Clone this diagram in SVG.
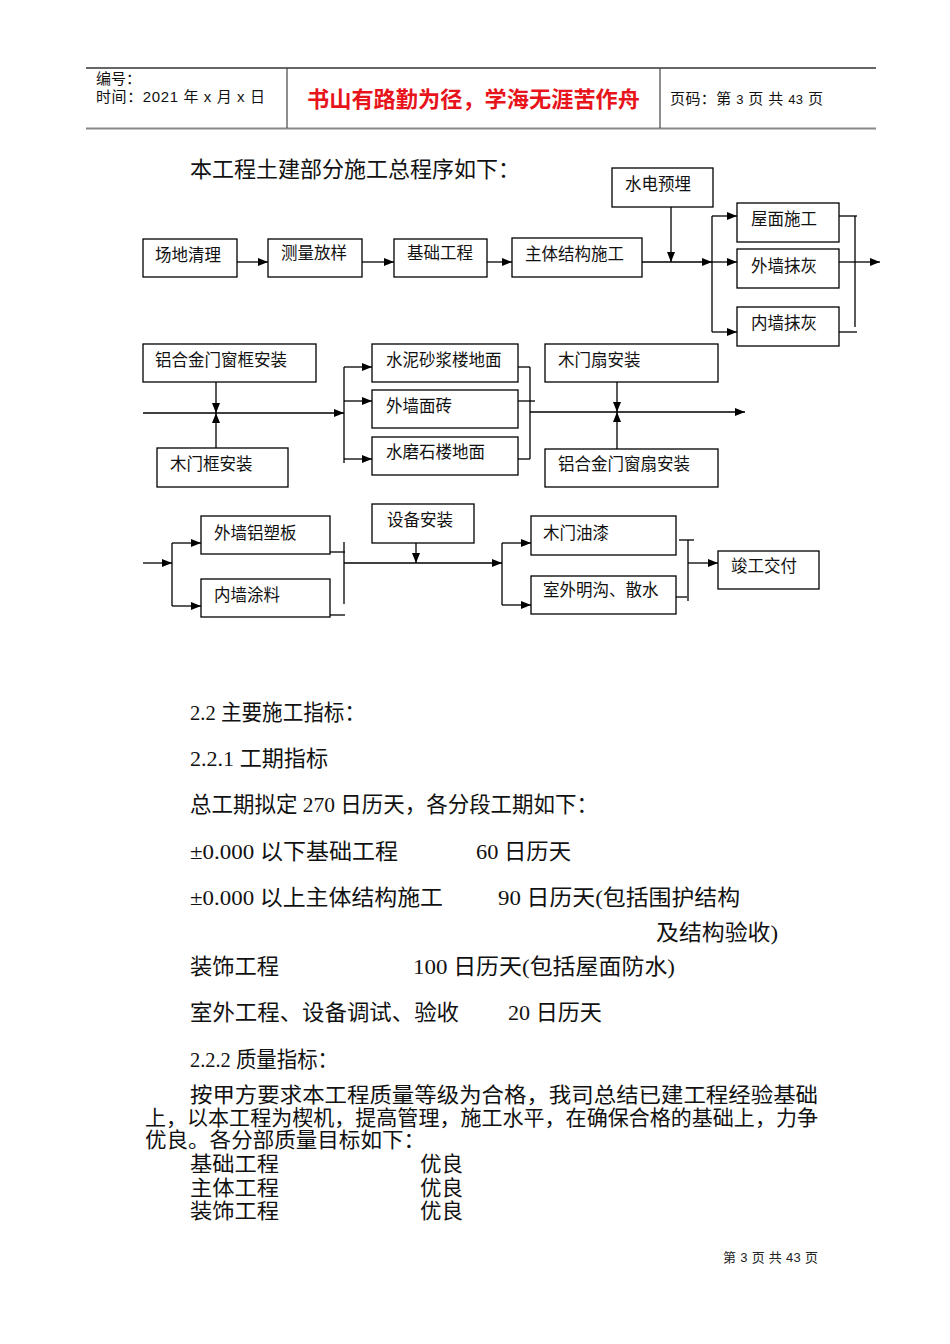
<svg xmlns="http://www.w3.org/2000/svg" width="950" height="1344" viewBox="0 0 950 1344">
<style>
.bg{fill:#fff}
.hd{font-family:"Liberation Sans","Noto Sans CJK SC",sans-serif;font-size:15px;fill:#111}
.red{font-family:"Liberation Sans","Noto Sans CJK SC",sans-serif;font-size:22px;font-weight:bold;fill:#e8141b}
.box rect{fill:#fff;stroke:#000;stroke-width:1.3}
.box text{font-family:"Liberation Serif","Noto Sans CJK SC",serif;font-size:16.5px;fill:#111}
.con line{stroke:#000;stroke-width:1.3;fill:none}
.body{font-family:"Liberation Serif","Noto Sans CJK SC",serif;font-size:22px;fill:#111}
.para{font-family:"Liberation Serif","Noto Sans CJK SC",serif;font-size:21px;fill:#111}
.ft{font-family:"Liberation Sans","Noto Sans CJK SC",sans-serif;font-size:13px;fill:#222}
</style>
<defs>
<marker id="ar" viewBox="0 0 10 8" refX="10" refY="4" markerWidth="10" markerHeight="8" orient="auto" markerUnits="userSpaceOnUse"><path d="M0,0 L10,4 L0,8 z" fill="#000"/></marker>
</defs>
<rect class="bg" x="0" y="0" width="950" height="1344"/>

<g id="header">
<line x1="86" y1="68" x2="876" y2="68" stroke="#333" stroke-width="1.3"/>
<line x1="86" y1="128.5" x2="876" y2="128.5" stroke="#888" stroke-width="2"/>
<line x1="287" y1="68" x2="287" y2="128" stroke="#444" stroke-width="1.2"/>
<line x1="660" y1="68" x2="660" y2="128" stroke="#444" stroke-width="1.2"/>
<text class="hd" x="96" y="84">编号：</text>
<text class="hd" x="96" y="102" textLength="169" lengthAdjust="spacing">时间：2021 年 x 月 x 日</text>
<text class="red" x="307" y="107" textLength="333" lengthAdjust="spacingAndGlyphs">书山有路勤为径，学海无涯苦作舟</text>
<text class="hd" x="670" y="104" textLength="153" lengthAdjust="spacing">页码：第 <tspan font-size="13">3</tspan> 页 共 <tspan font-size="13">43</tspan> 页</text>
</g>

<text class="body" x="190" y="177" textLength="330" lengthAdjust="spacingAndGlyphs">本工程土建部分施工总程序如下：</text>

<g class="con" id="connectors">
<line x1="237" y1="262" x2="268" y2="262" marker-end="url(#ar)"/>
<line x1="362" y1="262" x2="394" y2="262" marker-end="url(#ar)"/>
<line x1="487" y1="262" x2="512" y2="262" marker-end="url(#ar)"/>
<line x1="642" y1="262" x2="712" y2="262" marker-end="url(#ar)"/>
<line x1="712" y1="262" x2="737" y2="262" marker-end="url(#ar)"/>
<line x1="671" y1="207" x2="671" y2="262" marker-end="url(#ar)"/>
<line x1="712" y1="216" x2="712" y2="332"/>
<line x1="712" y1="216" x2="737" y2="216" marker-end="url(#ar)"/>
<line x1="712" y1="332" x2="737" y2="332" marker-end="url(#ar)"/>
<line x1="839" y1="216" x2="857" y2="216"/>
<line x1="839" y1="262" x2="855" y2="262"/>
<line x1="839" y1="332" x2="857" y2="332"/>
<line x1="855" y1="216" x2="855" y2="327"/>
<line x1="855" y1="262" x2="880" y2="262" marker-end="url(#ar)"/>
<line x1="143" y1="413" x2="344" y2="413" marker-end="url(#ar)"/>
<line x1="216" y1="382" x2="216" y2="413" marker-end="url(#ar)"/>
<line x1="216" y1="448" x2="216" y2="413" marker-end="url(#ar)"/>
<line x1="344" y1="367" x2="344" y2="463"/>
<line x1="344" y1="367" x2="372" y2="367" marker-end="url(#ar)"/>
<line x1="344" y1="401" x2="372" y2="401" marker-end="url(#ar)"/>
<line x1="344" y1="459" x2="372" y2="459" marker-end="url(#ar)"/>
<line x1="518" y1="367" x2="530" y2="367"/>
<line x1="518" y1="401" x2="535" y2="401"/>
<line x1="518" y1="459" x2="530" y2="459"/>
<line x1="530" y1="367" x2="530" y2="459"/>
<line x1="530" y1="412" x2="745" y2="412" marker-end="url(#ar)"/>
<line x1="617" y1="382" x2="617" y2="412" marker-end="url(#ar)"/>
<line x1="617" y1="449" x2="617" y2="412" marker-end="url(#ar)"/>
<line x1="143" y1="563" x2="172" y2="563" marker-end="url(#ar)"/>
<line x1="172" y1="543" x2="172" y2="606"/>
<line x1="172" y1="543" x2="201" y2="543" marker-end="url(#ar)"/>
<line x1="172" y1="606" x2="201" y2="606" marker-end="url(#ar)"/>
<line x1="330" y1="552" x2="345" y2="552"/>
<line x1="330" y1="615" x2="345" y2="615"/>
<line x1="344" y1="542" x2="344" y2="604"/>
<line x1="344" y1="563" x2="502" y2="563" marker-end="url(#ar)"/>
<line x1="416" y1="543" x2="416" y2="563" marker-end="url(#ar)"/>
<line x1="502" y1="543" x2="502" y2="605"/>
<line x1="502" y1="543" x2="531" y2="543" marker-end="url(#ar)"/>
<line x1="502" y1="605" x2="531" y2="605" marker-end="url(#ar)"/>
<line x1="679" y1="540" x2="694" y2="540"/>
<line x1="688" y1="540" x2="688" y2="601"/>
<line x1="671" y1="597" x2="687" y2="597"/>
<line x1="688" y1="563" x2="718" y2="563" marker-end="url(#ar)"/>
</g>

<g class="box" id="n1"><rect x="143" y="239" width="94" height="38"/><text x="155" y="261">场地清理</text></g>
<g class="box" id="n2"><rect x="268" y="239" width="94" height="38"/><text x="281" y="259">测量放样</text></g>
<g class="box" id="n3"><rect x="394" y="239" width="93" height="38"/><text x="407" y="259">基础工程</text></g>
<g class="box" id="n4"><rect x="512" y="238" width="130" height="39"/><text x="525" y="260">主体结构施工</text></g>
<g class="box" id="n5"><rect x="612" y="168" width="101" height="39"/><text x="625" y="190">水电预埋</text></g>
<g class="box" id="n6"><rect x="737" y="203" width="102" height="39"/><text x="751" y="225">屋面施工</text></g>
<g class="box" id="n7"><rect x="737" y="249" width="102" height="39"/><text x="751" y="272">外墙抹灰</text></g>
<g class="box" id="n8"><rect x="737" y="307" width="102" height="39"/><text x="751" y="329">内墙抹灰</text></g>

<g class="box" id="n9"><rect x="143" y="344" width="173" height="38"/><text x="155" y="366">铝合金门窗框安装</text></g>
<g class="box" id="n10"><rect x="157" y="448" width="131" height="39"/><text x="170" y="470">木门框安装</text></g>
<g class="box" id="n11"><rect x="372" y="344" width="146" height="38"/><text x="386" y="366">水泥砂浆楼地面</text></g>
<g class="box" id="n12"><rect x="372" y="390" width="146" height="38"/><text x="386" y="412">外墙面砖</text></g>
<g class="box" id="n13"><rect x="372" y="437" width="146" height="38"/><text x="386" y="458">水磨石楼地面</text></g>
<g class="box" id="n14"><rect x="545" y="344" width="173" height="38"/><text x="558" y="366">木门扇安装</text></g>
<g class="box" id="n15"><rect x="545" y="449" width="173" height="38"/><text x="558" y="470">铝合金门窗扇安装</text></g>

<g class="box" id="n16"><rect x="201" y="516" width="129" height="38"/><text x="214" y="539">外墙铝塑板</text></g>
<g class="box" id="n17"><rect x="201" y="579" width="129" height="38"/><text x="214" y="601">内墙涂料</text></g>
<g class="box" id="n18"><rect x="372" y="504" width="102" height="39"/><text x="387" y="526">设备安装</text></g>
<g class="box" id="n19"><rect x="531" y="516" width="145" height="39"/><text x="543" y="539">木门油漆</text></g>
<g class="box" id="n20"><rect x="531" y="576" width="145" height="38"/><text x="543" y="596">室外明沟、散水</text></g>
<g class="box" id="n21"><rect x="718" y="551" width="101" height="38"/><text x="731" y="572">竣工交付</text></g>

<g id="body">
<text class="body" x="190" y="720" textLength="175" lengthAdjust="spacingAndGlyphs">2.2 主要施工指标：</text>
<text class="body" x="190" y="766" textLength="138" lengthAdjust="spacingAndGlyphs">2.2.1 工期指标</text>
<text class="body" x="190" y="812" textLength="408" lengthAdjust="spacingAndGlyphs">总工期拟定 270 日历天，各分段工期如下：</text>
<text class="body" x="190" y="859" textLength="208" lengthAdjust="spacingAndGlyphs">±0.000 以下基础工程</text>
<text class="body" x="476" y="859" textLength="95" lengthAdjust="spacingAndGlyphs">60 日历天</text>
<text class="body" x="190" y="905" textLength="253" lengthAdjust="spacingAndGlyphs">±0.000 以上主体结构施工</text>
<text class="body" x="498" y="905" textLength="242" lengthAdjust="spacingAndGlyphs">90 日历天(包括围护结构</text>
<text class="body" x="656" y="940" textLength="122" lengthAdjust="spacingAndGlyphs">及结构验收)</text>
<text class="body" x="190" y="974" textLength="89" lengthAdjust="spacingAndGlyphs">装饰工程</text>
<text class="body" x="413" y="974" textLength="262" lengthAdjust="spacingAndGlyphs">100 日历天(包括屋面防水)</text>
<text class="body" x="190" y="1020" textLength="269" lengthAdjust="spacingAndGlyphs">室外工程、设备调试、验收</text>
<text class="body" x="508" y="1020" textLength="94" lengthAdjust="spacingAndGlyphs">20 日历天</text>
<text class="body" x="190" y="1067" textLength="148" lengthAdjust="spacingAndGlyphs">2.2.2 质量指标：</text>
<text class="para" x="190" y="1102" textLength="628" lengthAdjust="spacingAndGlyphs">按甲方要求本工程质量等级为合格，我司总结已建工程经验基础</text>
<text class="para" x="145" y="1125" textLength="673" lengthAdjust="spacingAndGlyphs">上，以本工程为楔机，提高管理，施工水平，在确保合格的基础上，力争</text>
<text class="para" x="145" y="1147" textLength="280" lengthAdjust="spacingAndGlyphs">优良。各分部质量目标如下：</text>
<text class="para" x="190" y="1171" textLength="89" lengthAdjust="spacingAndGlyphs">基础工程</text>
<text class="para" x="420" y="1171" textLength="43" lengthAdjust="spacingAndGlyphs">优良</text>
<text class="para" x="190" y="1195" textLength="89" lengthAdjust="spacingAndGlyphs">主体工程</text>
<text class="para" x="420" y="1195" textLength="43" lengthAdjust="spacingAndGlyphs">优良</text>
<text class="para" x="190" y="1218" textLength="89" lengthAdjust="spacingAndGlyphs">装饰工程</text>
<text class="para" x="420" y="1218" textLength="43" lengthAdjust="spacingAndGlyphs">优良</text>
</g>

<text class="ft" x="723" y="1262" textLength="95" lengthAdjust="spacing">第 3 页 共 43 页</text>
</svg>
